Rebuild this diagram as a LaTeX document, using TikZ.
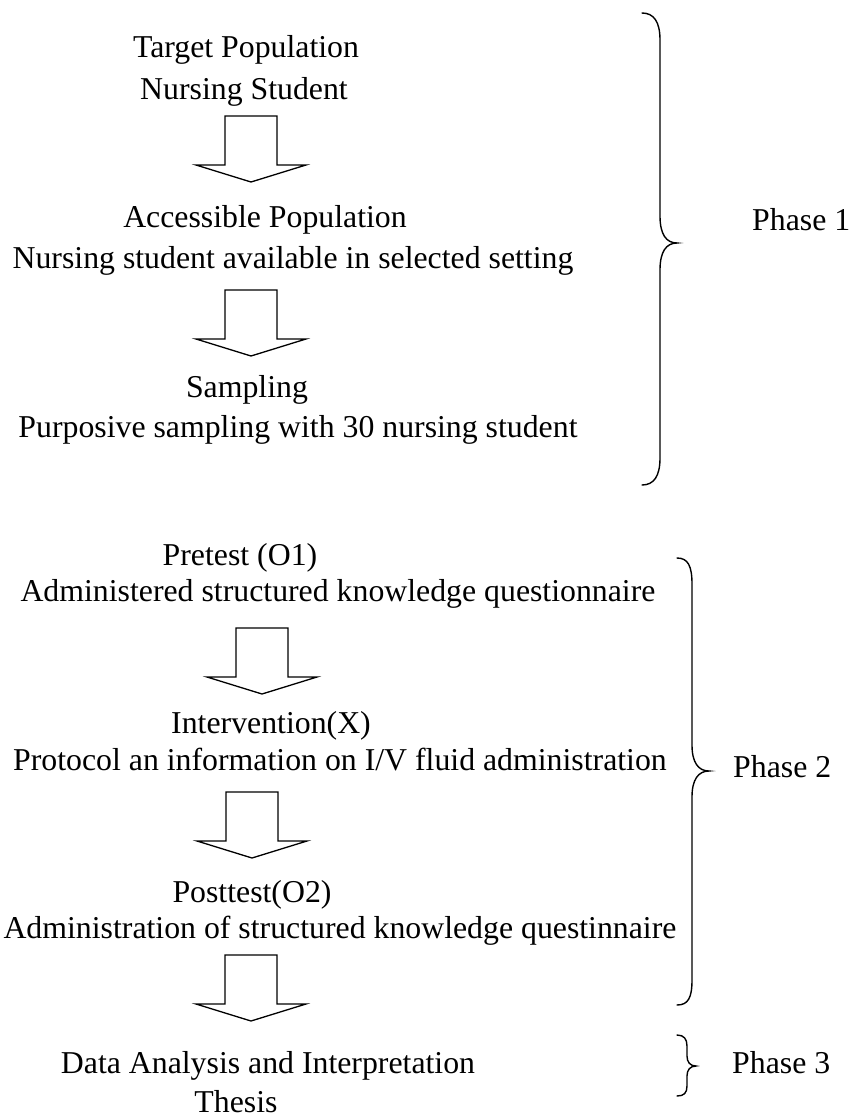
\documentclass[tikz,border=0pt]{standalone}
\usepackage{fontspec}
\setmainfont{Liberation Serif}
\begin{document}
\begin{tikzpicture}[x=1pt,y=-1pt,
  txt/.style={anchor=base,inner sep=0pt,font=\fontsize{31.8}{38}\selectfont},
  blockarrowstyle/.style={draw=black,line width=1.3pt,fill=white,line join=miter},
  bracestyle/.style={draw=black,line width=1.4pt,line cap=round}]
\useasboundingbox (0,0) rectangle (853,1117);
\newcommand\blockarrow[3]{%
  \coordinate (#1) at (#2,#3);
  \draw[blockarrowstyle] ([xshift=-26pt]#1) -- ([xshift=26pt]#1)
    -- ([xshift=26pt,yshift=-49pt]#1) -- ([xshift=55pt,yshift=-49pt]#1)
    -- ([yshift=-66pt]#1) -- ([xshift=-55pt,yshift=-49pt]#1)
    -- ([xshift=-26pt,yshift=-49pt]#1) -- cycle;}
% Phase 1 block
\node[txt] (t1a) at (246,57) {Target Population};
\node[txt] (t1b) at (244,99) {Nursing Student};
\blockarrow{a1}{251}{116}
\node[txt] (t2a) at (265,227) {Accessible Population};
\node[txt] (t2b) at (293,268) {Nursing student available in selected setting};
\blockarrow{a2}{251}{290}
\node[txt] (t3a) at (247,397) {Sampling};
\node[txt] (t3b) at (298,437) {Purposive sampling with 30 nursing student};
% Phase 2 block
\node[txt] (t4a) at (240,565) {Pretest (O1)};
\node[txt] (t4b) at (338,601) {Administered structured knowledge questionnaire};
\blockarrow{a3}{262}{628}
\node[txt] (t5a) at (271,733) {Intervention(X)};
\node[txt] (t5b) at (340,770) {Protocol an information on I/V fluid administration};
\blockarrow{a4}{252}{792}
\node[txt] (t6a) at (252,902) {Posttest(O2)};
\node[txt] (t6b) at (340,938) {Administration of structured knowledge questinnaire};
\blockarrow{a5}{251}{955}
% Phase 3 block
\node[txt] (t7a) at (268,1073) {Data Analysis and Interpretation};
\node[txt] (t7b) at (236,1112) {Thesis};
% Braces
\coordinate (b1) at (677,243);
\draw[bracestyle] (642,13) .. controls (654,13) and (660,22) .. (660,40)
  -- (660,216) .. controls (660,234) and (666,243) .. (b1)
  .. controls (666,243) and (660,252) .. (660,270)
  -- (660,458) .. controls (660,476) and (654,485) .. (642,485);
\node[txt,anchor=base west] (p1) at (752,230) {Phase 1};
\coordinate (b2) at (709,771);
\draw[bracestyle] (677,558) .. controls (688,558) and (692,566) .. (692,584)
  -- (692,745) .. controls (692,762) and (698,771) .. (b2)
  .. controls (698,771) and (692,780) .. (692,797)
  -- (692,980) .. controls (692,998) and (688,1005) .. (677,1005);
\node[txt,anchor=base west] (p2) at (733,777) {Phase 2};
\coordinate (b3) at (696,1066);
\draw[bracestyle] (677,1035) .. controls (684,1035) and (687,1039) .. (687,1046)
  -- (687,1056) .. controls (687,1062) and (690,1066) .. (b3)
  .. controls (690,1066) and (687,1070) .. (687,1076)
  -- (687,1086) .. controls (687,1093) and (684,1096) .. (677,1096);
\node[txt,anchor=base west] (p3) at (732,1073) {Phase 3};
\end{tikzpicture}
\end{document}
